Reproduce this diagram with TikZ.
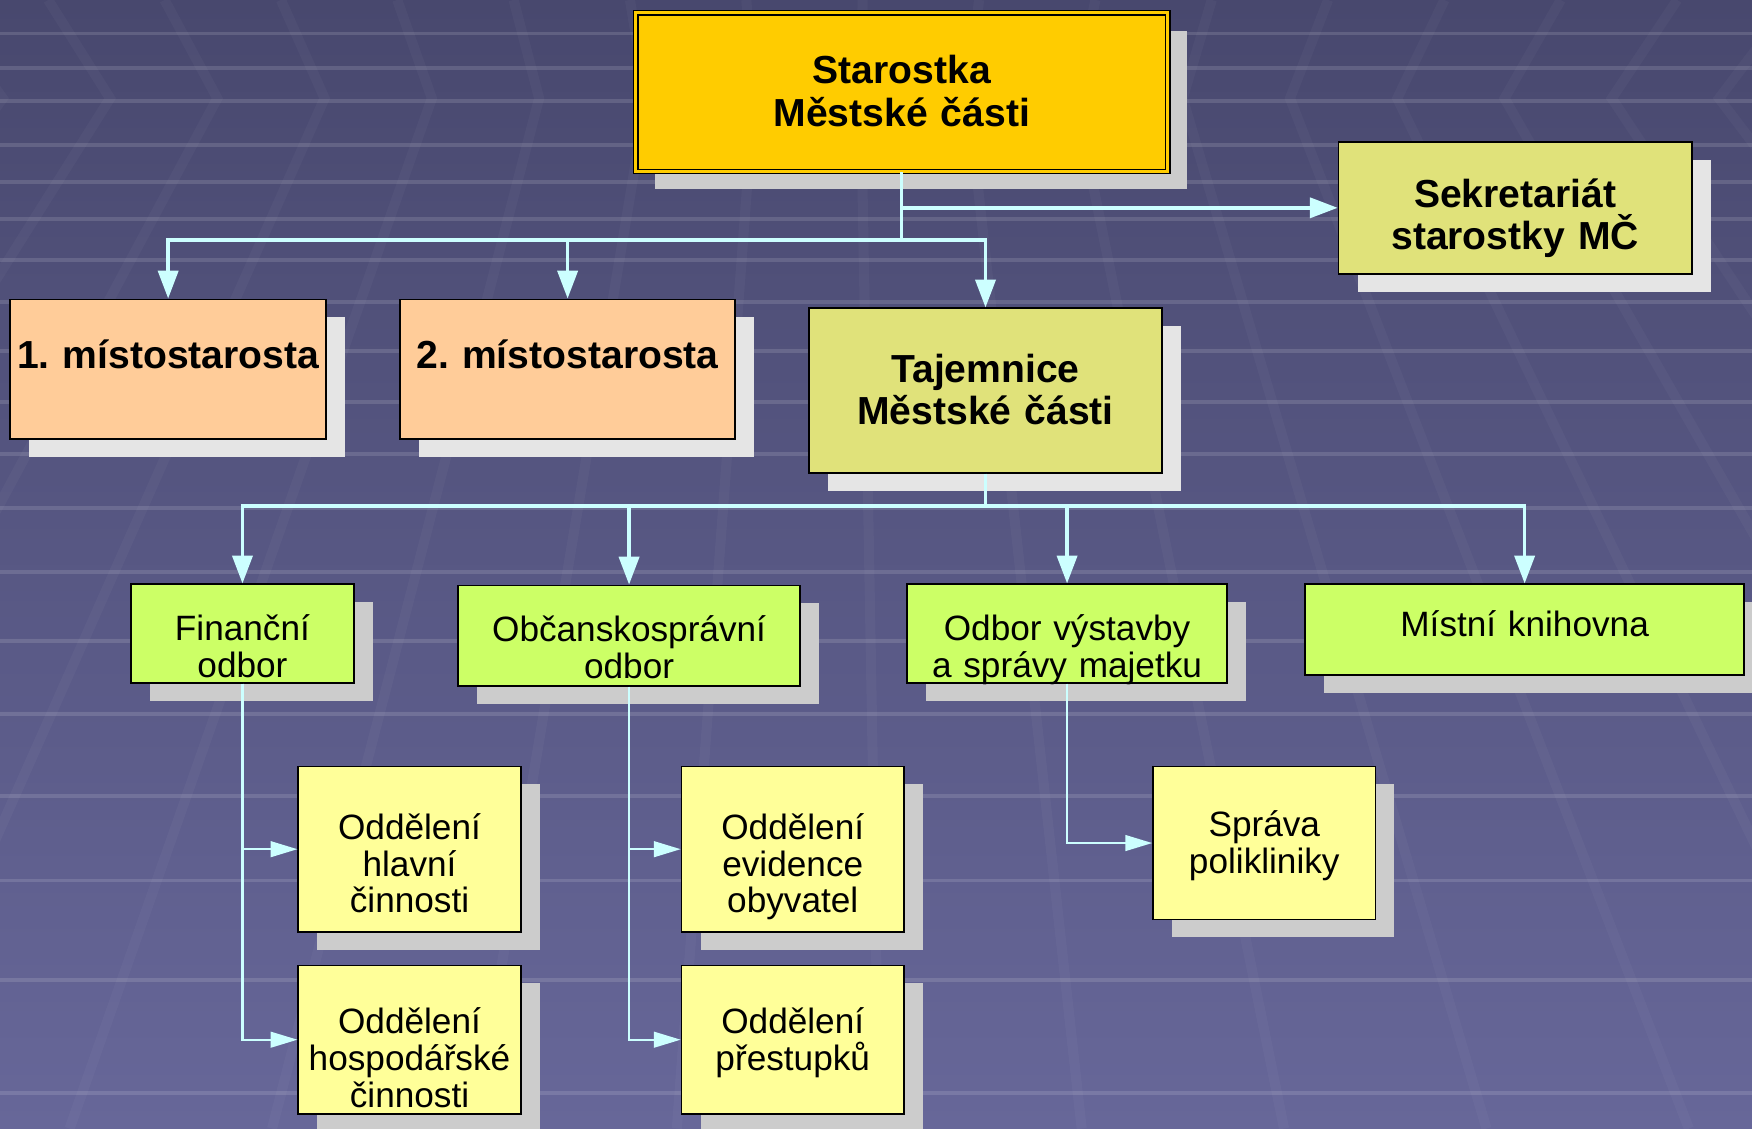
\documentclass[tikz,border=0pt]{standalone}
\usepackage{fontspec}
\setmainfont{Liberation Sans}
\usepackage{xcolor}
\usepackage{tikz}
\usetikzlibrary{positioning, shapes, calc, arrows.meta, shadows}
\frenchspacing

\definecolor{bgtop}{RGB}{72,72,110}
\definecolor{bgbot}{RGB}{103,103,153}
\definecolor{gold}{RGB}{255,204,0}
\definecolor{olive}{RGB}{224,226,122}
\definecolor{peach}{RGB}{255,204,153}
\definecolor{lime}{RGB}{204,255,102}
\definecolor{pale}{RGB}{255,255,153}
\definecolor{ice}{RGB}{204,255,255}

\begin{document}
\begin{tikzpicture}[x=0.5pt, y=-0.5pt]
		
		\tikzstyle{box}=[draw=black, line width=0.8pt, inner sep=0pt, align=center]
		\tikzstyle{bigtxt}=[font=\bfseries\fontsize{17.5}{19}\selectfont]
		\tikzstyle{smalltxt}=[font=\fontsize{15.75}{16.5}\selectfont]
		\tikzstyle{lightsh}=[drop shadow={shadow xshift=8.5pt, shadow yshift=-8pt, fill=black!10, opacity=1}]
		\tikzstyle{darksh}=[drop shadow={shadow xshift=8.5pt, shadow yshift=-8pt, fill=black!20, opacity=1}]
		\tikzstyle{conn}=[draw=ice, line width=1.6pt, -{Triangle[length=12.5pt, width=9pt]}]
		\tikzstyle{subconn}=[draw=ice, line width=1pt, -{Triangle[length=12pt, width=7pt]}]
		\tikzstyle{band}=[draw=white, opacity=0.13, line width=1.75pt]
		\tikzstyle{ray}=[draw=white, opacity=0.03, line width=4.5pt]
		\tikzset{wh/.style 2 args={minimum width=#1, text width=#1, minimum height=#2},
			up/.style={text height=0pt, text depth=#1},
			dn/.style={text height=#1, text depth=0pt}}
		
		%% background
		\useasboundingbox (0,0) rectangle (1568,1010);
		\clip (0,0) rectangle (1568,1010);
		\shade [top color=bgtop, bottom color=bgbot] (0,0) rectangle (1568,1010);
		\foreach \y in {30,61,90,130,163,196,233,270,314,360,406,455,512,574,639,712,788,877,978}
			\draw [band] (0,\y) -- (1568,\y);
		\foreach \t in {2.5,98.5,...,1538.5}
			\draw [ray] ({752+(\t-752)*1.0847},0) -- (\t,88) -- ({752+(\t-752)*1.887},1010);
		
		\node (star) at (807,82.5) [box, bigtxt, darksh, fill=gold, double=gold, double distance=1.4pt, line width=0.6pt, wh={238pt}{71pt}, up=7.5pt] {Starostka\\Městské části};
		\node (sek) at (1356,186) [box, bigtxt, lightsh, fill=olive, wh={158pt}{59pt}, up=0.5pt] {Sekretariát\\starostky MČ};
		
		\node (m1) at (150.5,330.5) [box, bigtxt, lightsh, fill=peach, wh={141.5pt}{62.5pt}, up=0.5pt] {1. místostarosta};
		\node (m2) at (508,330.5) [box, bigtxt, lightsh, fill=peach, wh={150pt}{62.5pt}, up=0.5pt] {2. místostarosta};
		\node (taj) at (882,349.5) [box, bigtxt, lightsh, fill=olive, wh={158pt}{73.5pt}, up=7.5pt] {Tajemnice\\Městské části};
		
		\node (fin) at (217,567) [box, smalltxt, darksh, fill=lime, wh={100pt}{44pt}, dn=6pt] {Finanční\\odbor};
		\node (obc) at (563,569) [box, smalltxt, darksh, fill=lime, wh={153pt}{45pt}, dn=5pt] {Občanskosprávní\\odbor};
		\node (vys) at (955,567) [box, smalltxt, darksh, fill=lime, wh={143pt}{44pt}, dn=6pt] {Odbor výstavby\\a správy majetku};
		\node (kni) at (1364.5,563.5) [box, smalltxt, darksh, fill=lime, wh={196.5pt}{40.5pt}, dn=6pt] {Místní knihovna};
		
		\node (hla) at (366.5,760) [box, smalltxt, darksh, fill=pale, wh={99.5pt}{74pt}, up=9pt] {Oddělení\\hlavní\\činnosti};
		\node (hos) at (366.5,930.5) [box, smalltxt, darksh, fill=pale, wh={99.5pt}{66.5pt}, up=5.5pt] {Oddělení\\hospodářské\\činnosti};
		\node (evi) at (709.5,760) [box, smalltxt, darksh, fill=pale, wh={99.5pt}{74pt}, up=9pt] {Oddělení\\evidence\\obyvatel};
		\node (pre) at (709.5,930.5) [box, smalltxt, darksh, fill=pale, wh={99.5pt}{66.5pt}, up=5.5pt] {Oddělení\\přestupků};
		\node (spr) at (1131.5,754.5) [box, smalltxt, darksh, fill=pale, wh={99.5pt}{68.5pt}, up=6pt] {Správa\\polikliniky};
		
		\coordinate (bus1) at (807,215);
		\coordinate (bus2) at (882,453);
		
		\draw [conn] (star.south) |- (sek.west);
		\draw [conn] (star.south) -- (bus1) -| (m1.north);
		\draw [conn] (bus1) -| (m2.north);
		\draw [conn] (bus1) -| (taj.north);
		
		\draw [conn] (taj.south) -- (bus2) -| (fin.north);
		\draw [conn] (bus2) -| (obc.north);
		\draw [conn] (bus2) -| (vys.north);
		\draw [conn] (bus2) -| (kni.north);
		
		\draw [subconn] (fin.south) |- (hla.west);
		\draw [subconn] (fin.south) |- (hos.west);
		\draw [subconn] (obc.south) |- (evi.west);
		\draw [subconn] (obc.south) |- (pre.west);
		\draw [subconn] (vys.south) |- (spr.west);
		
		\end{tikzpicture}
\end{document}
